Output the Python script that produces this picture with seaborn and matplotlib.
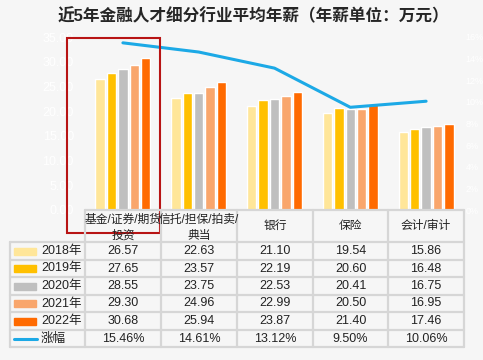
import numpy as np
import pandas as pd
import matplotlib
matplotlib.use("Agg")
import matplotlib.pyplot as plt
import seaborn as sns

# ── Datos ───────────────────────────────────────────────────────────────────
categories = ["基金/证券/期货/投资", "信托/担保/拍卖/典当", "银行", "保险", "会计/审计"]
header_lines = [["基金/证券/期货", "投资"], ["信托/担保/拍卖/", "典当"], ["银行"], ["保险"], ["会计/审计"]]
years = ["2018年", "2019年", "2020年", "2021年", "2022年"]
salary_2018 = [26.57, 22.63, 21.10, 19.54, 15.86]
salary_2019 = [27.65, 23.57, 22.19, 20.60, 16.48]
salary_2020 = [28.55, 23.75, 22.53, 20.41, 16.75]
salary_2021 = [29.30, 24.96, 22.99, 20.50, 16.95]
salary_2022 = [30.68, 25.94, 23.87, 21.40, 17.46]
growth = [15.46, 14.61, 13.12, 9.50, 10.06]
growth_label = "涨幅"

colors = ["#FFE699", "#FFC000", "#BFBFBF", "#F9A66C", "#FF6A00"]
line_color = "#1CA9E6"
bg = "#F6F6F6"

sns.set_style("white")
plt.rcParams["font.family"] = ["Liberation Sans", "Noto Sans CJK SC"]

series = [salary_2018, salary_2019, salary_2020, salary_2021, salary_2022]
df = pd.DataFrame({
    "cat": np.tile(categories, len(years)),
    "year": np.repeat(years, len(categories)),
    "val": np.concatenate(series),
})

W, H = 483, 360
fig = plt.figure(figsize=(W / 100, H / 100), dpi=100, facecolor=bg)

def px_rect(x0, y0, x1, y1):
    return [x0 / W, 1 - y1 / H, (x1 - x0) / W, (y1 - y0) / H]

# ── Gráfico de barras ───────────────────────────────────────────────────────
ax = fig.add_axes(px_rect(85, 37, 464, 210))
ax.set_facecolor(bg)
sns.barplot(data=df, x="cat", y="val", hue="year", order=categories,
            hue_order=years, palette=colors, width=0.75, gap=0.18,
            saturation=1, legend=False, ax=ax)
ax.set_xlim(-0.5, 4.5)
ax.set_ylim(0, 35)
ax.set_yticks(np.arange(0, 36, 5))
ax.set_yticklabels([f"{v:.2f}" for v in np.arange(0, 36, 5)], color="#FFFFFF", fontsize=9)
ax.set_xticks([])
ax.set_xlabel("")
ax.set_ylabel("")
ax.tick_params(axis="y", length=0, pad=8)
for s in ax.spines.values():
    s.set_visible(False)

ax2 = ax.twinx()
sns.lineplot(x=np.arange(len(categories)), y=growth, color=line_color,
             linewidth=2.2, ax=ax2)
ax2.set_ylim(0, 16)
ax2.set_yticks(np.arange(0, 17, 2))
ax2.set_yticklabels([f"{v}%" for v in range(0, 17, 2)], color="#FFFFFF", fontsize=6.5)
ax2.tick_params(axis="y", length=0, pad=1)
for s in ax2.spines.values():
    s.set_visible(False)

# ── Tabla de datos ──────────────────────────────────────────────────────────
tab = fig.add_axes([0, 0, 1, 1], facecolor="none")
tab.set_xlim(0, W)
tab.set_ylim(H, 0)
tab.axis("off")

col_x = [85, 161, 237, 313, 388, 464]
row_y = [242, 260, 277, 295, 312, 330, 347]
grid_c = "#D6D6D6"
lw = 1.6

# encabezado
tab.plot([85, 464], [210, 210], color=grid_c, lw=lw)
for x in col_x:
    tab.plot([x, x], [210, 347], color=grid_c, lw=lw)
tab.plot([10, 10], [242, 347], color=grid_c, lw=lw)
for y in row_y:
    tab.plot([10, 464], [y, y], color=grid_c, lw=lw)

for i, lines in enumerate(header_lines):
    cx = (col_x[i] + col_x[i + 1]) / 2
    if len(lines) == 2:
        tab.text(cx, 220, lines[0], ha="center", va="center", fontsize=8.5, color="#222222")
        tab.text(cx, 236, lines[1], ha="center", va="center", fontsize=8.5, color="#222222")
    else:
        tab.text(cx, 226, lines[0], ha="center", va="center", fontsize=8.5, color="#222222")

for r, (yr, vals, c) in enumerate(zip(years, series, colors)):
    cy = (row_y[r] + row_y[r + 1]) / 2
    tab.add_patch(plt.Rectangle((14, cy - 3.5), 22, 7, color=c))
    tab.text(41, cy, yr, ha="left", va="center", fontsize=9, color="#222222")
    for i, v in enumerate(vals):
        cx = (col_x[i] + col_x[i + 1]) / 2
        tab.text(cx, cy, f"{v:.2f}", ha="center", va="center", fontsize=9, color="#222222")

cy = (row_y[5] + row_y[6]) / 2
tab.plot([14, 37], [cy, cy], color=line_color, lw=2.2)
tab.text(41, cy, growth_label, ha="left", va="center", fontsize=9, color="#222222")
for i, v in enumerate(growth):
    cx = (col_x[i] + col_x[i + 1]) / 2
    tab.text(cx, cy, f"{v:.2f}%", ha="center", va="center", fontsize=9, color="#222222")

# recuadro rojo
tab.add_patch(plt.Rectangle((67, 38), 93, 195, fill=False, edgecolor="#B81414", lw=1.5))

# título
fig.text(0.525, 1 - 16 / H, "近5年金融人才细分行业平均年薪（年薪单位：万元）",
         ha="center", va="center", fontsize=12, fontweight="bold", color="#262626")

fig.savefig("out.png", dpi=100, facecolor=bg)
